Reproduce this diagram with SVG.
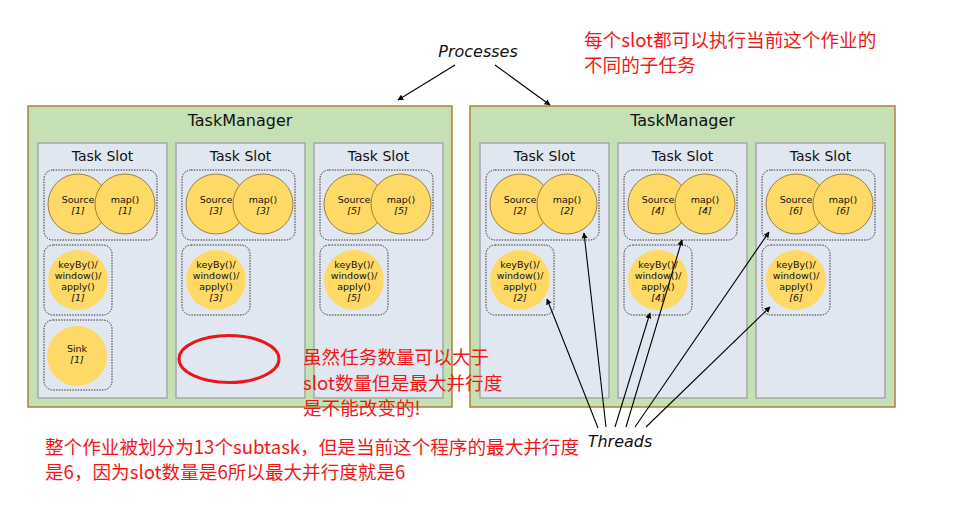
<svg xmlns="http://www.w3.org/2000/svg" width="963" height="528" viewBox="0 0 963 528">
<defs>
<style>
.tm{fill:#c5e0b4;stroke:#ad7f3c;stroke-width:1.5}
.slot{fill:#e1e7f1;stroke:#a6a6a6;stroke-width:1.5}
.grp{fill:none;stroke:#333;stroke-width:1;stroke-dasharray:1.5 1.2}
.c1{fill:#ffd966;stroke:#7f6a2a;stroke-width:0.8}
.c2{fill:#ffd966;stroke:none}
.t{font-family:"DejaVu Sans","Verdana",sans-serif;fill:#111;text-anchor:middle}
.tt{font-size:16px}
.ts{font-size:14px}
.tc{font-size:9.5px}
.it{font-style:italic}
.lab{font-family:"DejaVu Sans","Verdana",sans-serif;font-size:16px;font-style:italic;fill:#111}
.red{font-family:"Noto Sans CJK SC","Liberation Sans",sans-serif;font-size:18.6px;fill:#f01818}
.cn line{stroke:#000;stroke-width:1.1;marker-end:url(#ah)}
</style>
<marker id="ah" viewBox="0 0 10 10" refX="9" refY="5" markerWidth="6" markerHeight="6" orient="auto" markerUnits="userSpaceOnUse">
<path d="M0,0 L10,5 L0,10 z" fill="#000"/>
</marker>
<g id="slotA">
<rect class="slot" x="0" y="0" width="129" height="255"/>
<text class="t ts" x="64.5" y="18">Task Slot</text>
<rect class="grp" x="6" y="27" width="113" height="70" rx="9"/>
<circle class="c1" cx="40" cy="61" r="30"/>
<circle class="c1" cx="87" cy="61" r="30"/>
<rect class="grp" x="6" y="102" width="68" height="70" rx="9"/>
<circle class="c2" cx="40" cy="137" r="30"/>
</g>
</defs>

<g id="tm1">
<rect class="tm" x="28" y="106" width="424" height="301"/>
<text class="t tt" x="240" y="126">TaskManager</text>
</g>
<g id="tm2">
<rect class="tm" x="470" y="106" width="425" height="301"/>
<text class="t tt" x="682.5" y="126">TaskManager</text>
</g>

<g id="slot1">
<use href="#slotA" x="38" y="143"/>
<rect class="grp" x="44" y="320" width="68" height="70" rx="9"/>
<circle class="c2" cx="77" cy="356" r="30"/>
<text class="t tc" x="78" y="203">Source</text><text class="t tc it" x="78" y="214">[1]</text>
<text class="t tc" x="125" y="203">map()</text><text class="t tc it" x="125" y="214">[1]</text>
<text class="t tc" x="78" y="268">keyBy()/</text><text class="t tc" x="78" y="279">window()/</text><text class="t tc" x="78" y="290">apply()</text><text class="t tc it" x="78" y="301">[1]</text>
<text class="t tc" x="77" y="352">Sink</text><text class="t tc it" x="77" y="363">[1]</text>
</g>
<g id="slot3">
<use href="#slotA" x="176" y="143"/>
<text class="t tc" x="216" y="203">Source</text><text class="t tc it" x="216" y="214">[3]</text>
<text class="t tc" x="263" y="203">map()</text><text class="t tc it" x="263" y="214">[3]</text>
<text class="t tc" x="216" y="268">keyBy()/</text><text class="t tc" x="216" y="279">window()/</text><text class="t tc" x="216" y="290">apply()</text><text class="t tc it" x="216" y="301">[3]</text>
</g>
<g id="slot5">
<use href="#slotA" x="314" y="143"/>
<text class="t tc" x="354" y="203">Source</text><text class="t tc it" x="354" y="214">[5]</text>
<text class="t tc" x="401" y="203">map()</text><text class="t tc it" x="401" y="214">[5]</text>
<text class="t tc" x="354" y="268">keyBy()/</text><text class="t tc" x="354" y="279">window()/</text><text class="t tc" x="354" y="290">apply()</text><text class="t tc it" x="354" y="301">[5]</text>
</g>
<g id="slot2">
<use href="#slotA" x="480" y="143"/>
<text class="t tc" x="520" y="203">Source</text><text class="t tc it" x="520" y="214">[2]</text>
<text class="t tc" x="567" y="203">map()</text><text class="t tc it" x="567" y="214">[2]</text>
<text class="t tc" x="520" y="268">keyBy()/</text><text class="t tc" x="520" y="279">window()/</text><text class="t tc" x="520" y="290">apply()</text><text class="t tc it" x="520" y="301">[2]</text>
</g>
<g id="slot4">
<use href="#slotA" x="618" y="143"/>
<text class="t tc" x="658" y="203">Source</text><text class="t tc it" x="658" y="214">[4]</text>
<text class="t tc" x="705" y="203">map()</text><text class="t tc it" x="705" y="214">[4]</text>
<text class="t tc" x="658" y="268">keyBy()/</text><text class="t tc" x="658" y="279">window()/</text><text class="t tc" x="658" y="290">apply()</text><text class="t tc it" x="658" y="301">[4]</text>
</g>
<g id="slot6">
<use href="#slotA" x="756" y="143"/>
<text class="t tc" x="796" y="203">Source</text><text class="t tc it" x="796" y="214">[6]</text>
<text class="t tc" x="843" y="203">map()</text><text class="t tc it" x="843" y="214">[6]</text>
<text class="t tc" x="796" y="268">keyBy()/</text><text class="t tc" x="796" y="279">window()/</text><text class="t tc" x="796" y="290">apply()</text><text class="t tc it" x="796" y="301">[6]</text>
</g>

<g id="mark">
<ellipse cx="229" cy="359" rx="50" ry="23.5" fill="none" stroke="#e8171e" stroke-width="3"/>
</g>

<g id="labels">
<text class="lab" x="478" y="57" text-anchor="middle">Processes</text>
<text class="lab" x="620" y="447" text-anchor="middle">Threads</text>
</g>

<g id="notes">
<text class="red" x="584" y="47">每个slot都可以执行当前这个作业的</text>
<text class="red" x="584" y="72">不同的子任务</text>
<text class="red" x="303" y="364">虽然任务数量可以大于</text>
<text class="red" x="303" y="390">slot数量但是最大并行度</text>
<text class="red" x="303" y="415">是不能改变的!</text>
<text class="red" x="45" y="454">整个作业被划分为13个subtask，但是当前这个程序的最大并行度</text>
<text class="red" x="45" y="479">是6，因为slot数量是6所以最大并行度就是6</text>
</g>

<g id="connectors" class="cn">
<line x1="455" y1="65" x2="398" y2="100"/>
<line x1="495" y1="65" x2="550" y2="105"/>
<line x1="598" y1="428" x2="547" y2="299"/>
<line x1="606" y1="427" x2="584" y2="233"/>
<line x1="615" y1="427" x2="650" y2="313"/>
<line x1="626" y1="427" x2="682" y2="240"/>
<line x1="635" y1="427" x2="769" y2="232"/>
<line x1="646" y1="427" x2="770" y2="307"/>
</g>
</svg>
